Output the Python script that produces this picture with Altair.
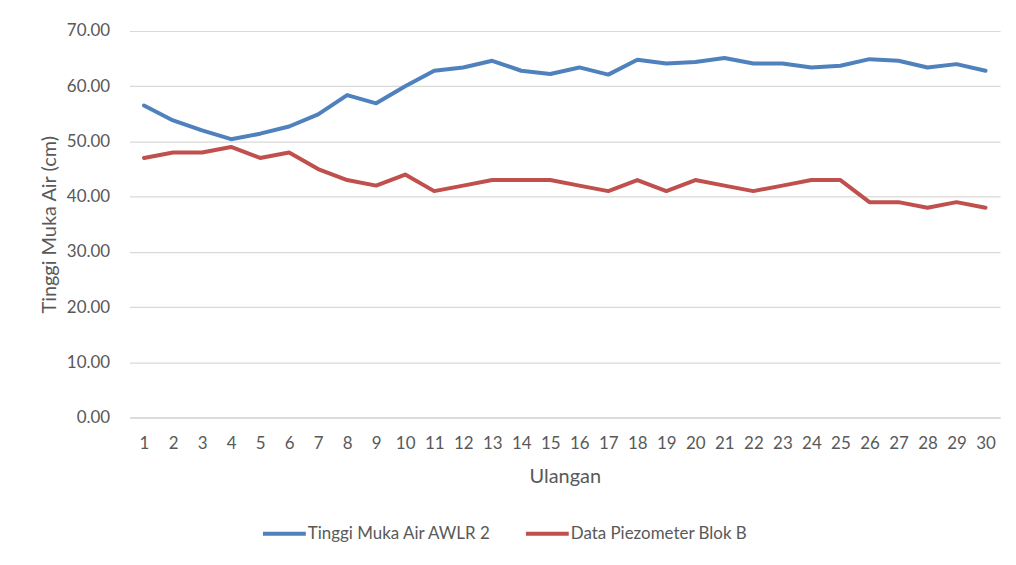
import altair as alt
import pandas as pd

ulangan = list(range(1, 31))
awlr = [56.5, 53.8, 52.0, 50.4, 51.4, 52.7, 54.9, 58.4, 56.9, 60.0,
        62.8, 63.4, 64.6, 62.8, 62.2, 63.4, 62.1, 64.8, 64.1, 64.4,
        65.1, 64.1, 64.1, 63.4, 63.7, 64.9, 64.6, 63.4, 64.0, 62.8]
piezo = [47, 48, 48, 49, 47, 48, 45, 43, 42, 44,
         41, 42, 43, 43, 43, 42, 41, 43, 41, 43,
         42, 41, 42, 43, 43, 39, 39, 38, 39, 38]
series_names = ["Tinggi Muka Air AWLR 2", "Data Piezometer Blok B"]
series_colors = ["#4F81BD", "#C0504D"]

rows = []
for name, vals in zip(series_names, [awlr, piezo]):
    for u, v in zip(ulangan, vals):
        rows.append({"Ulangan": u, "Nilai": v, "Seri": name})
df = pd.DataFrame(rows)

FONT = "Lato"
GRAY = "#595959"

chart = alt.Chart(df).mark_line(strokeWidth=4, strokeJoin="round", strokeCap="round").encode(
    x=alt.X("Ulangan:O",
            scale=alt.Scale(type="point", padding=0.5),
            axis=alt.Axis(title="Ulangan", labelAngle=0, ticks=False, grid=False,
                          domainColor="#D9D9D9", domainWidth=1.5,
                          labelPadding=18, titlePadding=15)),
    y=alt.Y("Nilai:Q",
            scale=alt.Scale(domain=[0, 70], nice=False),
            axis=alt.Axis(title="Tinggi Muka Air (cm)", values=[0, 10, 20, 30, 40, 50, 60, 70],
                          format=".2f", ticks=False, domain=False, gridColor="#D9D9D9",
                          gridWidth=1.2, labelPadding=20,
                          titleX=-80, titleY=194, titleAngle=-90,
                          titleAlign="center", titleBaseline="middle")),
    color=alt.Color("Seri:N",
                    scale=alt.Scale(domain=series_names, range=series_colors),
                    legend=alt.Legend(title=None, orient="none", direction="horizontal",
                                      legendX=132, legendY=481,
                                      symbolType="stroke", symbolSize=1849,
                                      symbolStrokeWidth=4, labelOffset=0,
                                      labelLimit=0, columnPadding=26, padding=0)),
).properties(
    width=874,
    height=388,
    autosize=alt.AutoSizeParams(type="none"),
    padding={"left": 122, "top": 22, "right": 8, "bottom": 138},
).configure_view(
    stroke=None
).configure_axis(
    labelFont=FONT, titleFont=FONT, labelFontSize=17, titleFontSize=20,
    labelColor=GRAY, titleColor=GRAY, titleFontWeight="normal"
).configure_legend(
    labelFont=FONT, labelFontSize=17, labelColor=GRAY
)

chart.save("out.html", embed_options={"renderer": "svg", "actions": False})
